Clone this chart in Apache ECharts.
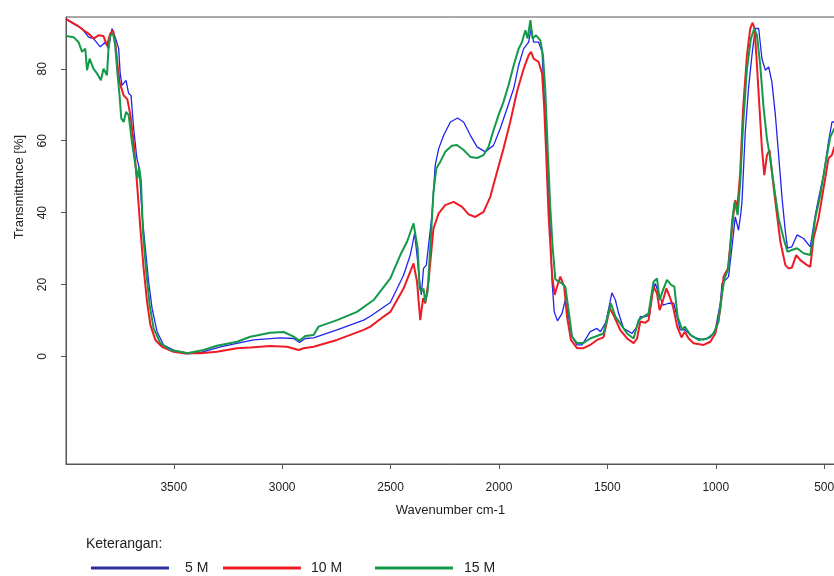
<!DOCTYPE html>
<html>
<head>
<meta charset="utf-8">
<script src="https://cdn.jsdelivr.net/npm/echarts@6/dist/echarts.min.js"></script>
<style>
  html, body { margin: 0; padding: 0; background: #fff; }
  #box { width: 834px; height: 576px; }
</style>
</head>
<body>
<div id="box"></div>
<script>
// spektrum FTIR
const wn5 = [3996,3962,3923,3893,3870,3839,3816,3801,3785,3770,3754,3747,3739,3720,3708,3697,3685,3670,3659,3646,3631,3616,3600,3577,3547,3501,3455,3439,3377,3285,3132,3009,2947,2920,2893,2855,2747,2624,2593,2501,2440,2409,2389,2378,2366,2358,2348,2335,2327,2309,2294,2278,2255,2224,2191,2163,2132,2101,2063,2025,1994,1963,1932,1909,1886,1863,1852,1840,1817,1801,1791,1778,1766,1755,1745,1730,1709,1694,1679,1663,1640,1617,1579,1548,1532,1507,1479,1463,1448,1425,1386,1363,1348,1325,1305,1294,1279,1264,1243,1217,1194,1179,1164,1145,1133,1102,1056,1025,1002,979,971,941,925,910,895,884,879,864,849,833,818,810,802,787,771,756,741,725,710,694,679,669,649,625,595,564,541,526,503,480,464,453];
const tr5 = [93.8,92.5,91.2,88.8,88.4,86.1,87.4,85.6,91.2,88.8,85.6,78.7,75.4,76.8,73.1,72.6,63.4,55.1,52.3,39.3,30.1,20.8,13.4,6.9,3.2,1.8,0.9,0.7,1.1,2.7,4.6,5.2,5.0,3.9,5.0,5.2,7.4,10.1,11.2,15.0,22.6,28.2,34.2,28.2,20.8,17.1,24.5,25.4,25.0,39.3,53.2,57.8,61.5,65.2,66.3,65.2,61.5,58.3,56.9,58.7,63.4,68.9,74.5,81.0,85.6,87.4,91.2,87.4,87.4,84.7,71.7,57.8,39.3,20.8,12.4,9.9,12.0,15.7,11.1,5.5,3.2,3.2,6.9,7.8,6.9,9.5,17.7,15.7,12.0,7.8,6.4,8.3,11.1,11.1,11.5,17.6,20.3,17.6,14.3,14.8,14.8,11.1,7.4,7.5,6.9,5.3,4.6,5.3,7.4,14.8,20.3,22.2,30.5,38.8,35.1,40.0,43.0,62.4,74.5,83.8,91.2,91.6,91.2,82.8,79.6,80.5,76.3,67.1,56.0,43.9,34.7,30.1,30.5,33.8,32.8,30.5,39.3,43.9,50.4,59.7,65.2,65.2];

const wn10 = [3996,3946,3916,3893,3870,3847,3824,3808,3793,3780,3770,3759,3750,3731,3714,3700,3685,3670,3654,3639,3623,3608,3585,3554,3501,3455,3424,3377,3301,3208,3147,3055,2978,2924,2901,2855,2747,2624,2593,2532,2501,2440,2394,2378,2363,2350,2340,2325,2302,2278,2248,2209,2170,2140,2109,2071,2040,2009,1979,1948,1917,1886,1863,1852,1840,1817,1801,1791,1782,1771,1755,1743,1732,1717,1709,1699,1686,1668,1640,1610,1579,1548,1518,1489,1468,1441,1409,1379,1363,1348,1325,1310,1287,1271,1259,1243,1228,1212,1197,1178,1158,1143,1125,1102,1056,1025,1002,979,964,944,930,918,910,901,887,874,856,841,830,821,810,798,787,776,764,752,741,725,702,679,664,649,629,610,579,564,549,526,503,480,464,453];
const tr10 = [93.8,92.1,90.7,89.8,88.4,89.3,89.1,86.5,89.8,90.7,87.4,81.0,76.3,72.6,71.5,67.1,59.7,48.6,35.6,24.5,15.2,8.8,4.6,2.7,1.3,0.9,0.9,0.9,1.3,2.3,2.5,2.9,2.7,1.8,2.3,2.7,4.6,7.4,8.3,11.1,12.4,18.9,25.9,20.8,10.1,16.2,14.8,20.8,35.6,39.8,42.1,43.0,41.6,39.5,38.8,40.2,44.4,51.3,57.8,65.2,73.6,80.0,83.8,84.7,82.8,81.9,78.7,68.9,56.0,39.3,22.6,17.1,19.4,22.2,22.2,19.4,11.1,4.6,2.3,2.3,3.2,4.6,5.3,13.4,11.1,7.4,5.0,3.7,5.0,9.7,9.4,10.1,19.4,17.6,12.9,15.7,18.9,16.6,13.8,8.3,5.3,6.9,5.0,3.7,3.2,4.1,6.4,13.0,22.2,24.5,32.4,39.8,43.5,40.9,51.3,68.9,83.8,91.2,92.8,91.2,81.0,68.9,57.8,50.4,56.0,57.4,51.3,43.0,31.9,25.4,24.5,24.7,28.2,26.8,25.4,24.9,32.8,38.4,46.7,55.1,56.0,58.3];

const wn15 = [3996,3962,3939,3923,3908,3900,3888,3870,3854,3836,3824,3808,3801,3793,3780,3770,3759,3750,3742,3731,3720,3708,3693,3677,3667,3660,3651,3642,3627,3611,3593,3562,3516,3455,3439,3362,3301,3208,3147,3055,2993,2947,2920,2893,2855,2832,2747,2655,2578,2501,2455,2424,2394,2386,2375,2366,2358,2348,2340,2329,2317,2302,2289,2271,2248,2217,2194,2163,2132,2101,2071,2048,2025,2002,1979,1956,1932,1909,1894,1878,1868,1855,1845,1829,1809,1797,1786,1774,1763,1752,1740,1725,1709,1694,1679,1663,1640,1610,1579,1548,1518,1484,1463,1441,1409,1379,1356,1333,1310,1287,1271,1259,1243,1225,1206,1191,1176,1155,1143,1117,1079,1040,1010,987,979,960,941,925,913,899,887,874,856,838,822,810,795,779,764,749,730,710,687,669,649,625,595,564,541,518,495,472,453];
const tr15 = [89.1,88.8,87.4,84.7,85.6,79.6,82.8,80.0,78.7,76.8,80.0,78.2,85.6,89.3,89.8,86.5,78.2,72.6,66.2,65.2,68.0,67.1,59.7,53.2,49.5,52.7,48.6,34.7,23.6,14.3,7.8,3.7,1.8,1.2,0.9,1.8,3.0,4.1,5.5,6.6,6.8,5.5,4.4,5.7,6.0,8.3,10.1,12.4,15.7,21.7,28.2,31.9,37.0,37.0,30.1,18.9,18.0,18.9,15.2,18.0,30.1,45.8,52.3,54.1,56.9,58.6,58.8,57.4,55.5,55.2,56.0,58.3,62.9,67.1,70.8,75.4,81.0,85.6,87.4,90.7,88.4,93.5,88.4,89.3,87.9,83.8,73.6,56.0,41.2,30.1,21.5,20.8,20.3,19.4,12.9,5.5,3.7,3.8,5.0,5.7,6.4,14.8,11.1,9.2,6.4,5.0,10.1,11.1,12.0,20.8,21.7,15.7,18.5,21.3,19.9,19.4,11.1,7.4,8.3,6.0,4.6,5.0,6.4,9.7,14.3,21.7,24.5,37.4,43.0,39.3,48.6,64.3,80.0,88.4,91.2,89.3,81.0,68.9,60.6,55.1,46.7,38.4,32.8,29.1,29.6,30.1,28.7,28.2,38.4,44.9,53.2,61.0,63.4];

const xTicks = [3500, 3000, 2500, 2000, 1500, 1000, 500];
const yTicks = [0, 20, 40, 60, 80];
const names = ['5 M', '10 M', '15 M'];

function pairs(xs, ys) {
  return xs.map((x, i) => [x, ys[i]]);
}

const chart = echarts.init(document.getElementById('box'));
const font = 'Liberation Sans';
const lineColors = ['#2323ee', '#ec1c24', '#14994a'];
const keyColors = ['#2a2f9c', '#ec1c24', '#14994a'];
const keyLeft = [91, 223, 375];
const keyPad = [11, 5, 6];

chart.setOption({
  animation: false,
  textStyle: { fontFamily: font },
  title: {
    text: 'Keterangan:',
    left: 86,
    top: 537,
    padding: 0,
    textStyle: { fontFamily: font, fontSize: 14, fontWeight: 'normal', color: '#222' }
  },
  legend: names.map((n, i) => ({
    left: keyLeft[i],
    top: 561,
    padding: 0,
    icon: 'rect',
    itemWidth: 78,
    itemHeight: 3,
    selectedMode: false,
    data: [{ name: n, itemStyle: { color: keyColors[i] } }],
    textStyle: { fontFamily: font, fontSize: 14, color: '#222', padding: [0, 0, 0, keyPad[i]] }
  })),
  grid: {
    left: 66, top: 17, width: 769, height: 447,
    outerBoundsMode: 'none',
    containLabel: false,
    show: true, borderColor: '#555', borderWidth: 1
  },
  xAxis: {
    type: 'value',
    inverse: true,
    min: 450,
    max: 3997,
    name: 'Wavenumber cm-1',
    nameLocation: 'middle',
    nameGap: 40,
    nameTextStyle: { fontFamily: font, fontSize: 13, color: '#222' },
    axisLine: { show: true, onZero: false, lineStyle: { color: '#555' } },
    axisTick: { show: true, inside: false, length: 5, customValues: xTicks, lineStyle: { color: '#555' } },
    axisLabel: { customValues: xTicks, formatter: v => String(v), margin: 18, fontSize: 12, color: '#222', fontFamily: font },
    splitLine: { show: false }
  },
  yAxis: {
    type: 'value',
    min: -29.9,
    max: 94.4,
    axisLine: { show: true, onZero: false, lineStyle: { color: '#555' } },
    axisTick: { show: true, inside: false, length: 5, customValues: yTicks, lineStyle: { color: '#555' } },
    axisLabel: { customValues: yTicks, formatter: v => String(v), rotate: 90, margin: 17, fontSize: 12, color: '#222', fontFamily: font },
    splitLine: { show: false }
  },
  graphic: [{
    type: 'text',
    x: 19,
    y: 187,
    rotation: Math.PI / 2,
    style: {
      text: 'Transmittance [%]',
      fontFamily: font,
      fontSize: 13,
      fill: '#222',
      textAlign: 'center',
      textVerticalAlign: 'middle'
    }
  }],
  series: [
    { name: names[0], type: 'line', showSymbol: false, data: pairs(wn5, tr5), lineStyle: { width: 1.3, color: lineColors[0] }, itemStyle: { color: lineColors[0] } },
    { name: names[1], type: 'line', showSymbol: false, data: pairs(wn10, tr10), lineStyle: { width: 2, color: lineColors[1] }, itemStyle: { color: lineColors[1] } },
    { name: names[2], type: 'line', showSymbol: false, data: pairs(wn15, tr15), lineStyle: { width: 2, color: lineColors[2] }, itemStyle: { color: lineColors[2] } }
  ]
});
</script>
</body>
</html>
